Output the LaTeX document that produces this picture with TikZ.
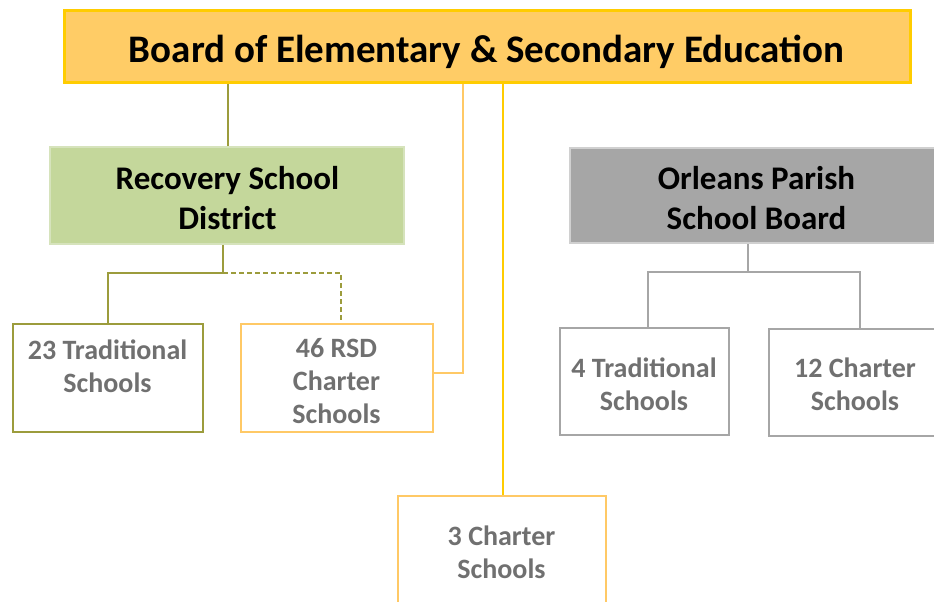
\documentclass[tikz,border=0pt]{standalone}
\usepackage{fontspec}
\setmainfont{Carlito}
\definecolor{topfill}{HTML}{FFCC66}
\definecolor{gold}{HTML}{FFCC00}
\definecolor{lorange}{HTML}{FFC966}
\definecolor{olive}{HTML}{9C9C3C}
\definecolor{rsdfill}{HTML}{C4D79B}
\definecolor{rsdline}{HTML}{D6E3BC}
\definecolor{opfill}{HTML}{A6A6A6}
\definecolor{opline}{HTML}{D0D0D0}
\definecolor{gline}{HTML}{A6A6A6}
\definecolor{gtext}{HTML}{707070}
\tikzset{
  box/.style={draw, rectangle, inner sep=0pt},
  childtext/.style={anchor=base, align=center, text=gtext, font=\bfseries\fontsize{28}{33}\selectfont, inner sep=0pt},
  headtext/.style={anchor=base, align=center, text=black, font=\bfseries\fontsize{33}{40}\selectfont, inner sep=0pt},
  conn/.style={line width=1.5pt}
}
\begin{document}
\begin{tikzpicture}[x=1pt,y=-1pt]
\useasboundingbox (0,0) rectangle (934,602);
% boxes
\node[box, draw=gold, fill=topfill, line width=3pt, minimum width=846pt, minimum height=72pt] (top) at (487,46.5) {};
\node[box, draw=rsdline, fill=rsdfill, line width=1.5pt, minimum width=354pt, minimum height=97pt] (rsd) at (227,195.5) {};
\node[box, draw=opline, fill=opfill, line width=2pt, minimum width=373pt, minimum height=95pt] (opsb) at (756.5,195.5) {};
\node[box, draw=olive, line width=2.5pt, minimum width=190pt, minimum height=108pt] (t23) at (108,378) {};
\node[box, draw=lorange, line width=2.5pt, minimum width=192pt, minimum height=108pt] (r46) at (337,378) {};
\node[box, draw=gline, line width=2.5pt, minimum width=169pt, minimum height=107pt] (t4) at (644.5,381.5) {};
\node[box, draw=gline, line width=2.5pt, minimum width=172pt, minimum height=107pt] (c12) at (855,382.5) {};
\node[box, draw=lorange, line width=2.5pt, minimum width=208pt, minimum height=110pt] (c3) at (502,551) {};
% texts (anchor = baseline of last line)
\node[anchor=base, inner sep=0pt, font=\bfseries\fontsize{39}{47}\selectfont] (toptxt) at (486.5,63) {Board of Elementary \& Secondary Education};
\node[headtext] (rsdtxt) at (227.5,229) {Recovery School\\District};
\node[headtext] (opsbtxt) at (756.5,229) {Orleans Parish\\School Board};
\node[childtext] (t23txt) at (107.5,392) {23 Traditional\\Schools};
\node[childtext] (r46txt) at (336.5,423) {46 RSD\\Charter\\Schools};
\node[childtext] (t4txt) at (644,410) {4 Traditional\\Schools};
\node[childtext] (c12txt) at (855,410) {12 Charter\\Schools};
\node[childtext] (c3txt) at (501.5,578) {3 Charter\\Schools};
% connectors
\coordinate (jr) at (228,0);
\draw[conn, olive] (jr |- top.south) -- (jr |- rsd.north);
\coordinate (rsdb) at (223,273);
\draw[conn, olive] (rsdb |- rsd.south) -- (rsdb) -- (rsdb -| t23.north) -- (t23.north);
\draw[conn, olive, dash pattern=on 5pt off 3pt] (rsdb) -- (341,273) coordinate (rsdd) -- (rsdd |- r46.north);
\coordinate (j46) at (463,373);
\draw[conn, lorange] (j46 |- top.south) -- (j46) -- (j46 -| r46.east);
\coordinate (j3) at (503,0);
\draw[conn, gold] (j3 |- top.south) -- (j3 |- c3.north);
\coordinate (opb) at (748,272);
\draw[conn, gline] (opb |- opsb.south) -- (opb);
\coordinate (opl) at (648,272);
\coordinate (opr) at (860,272);
\draw[conn, gline] (opl |- t4.north) -- (opl) -- (opr) -- (opr |- c12.north);
\end{tikzpicture}
\end{document}
